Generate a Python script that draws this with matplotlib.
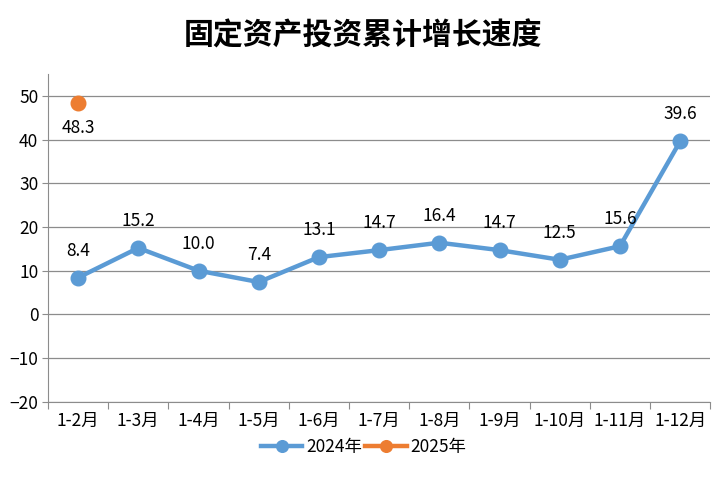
import matplotlib
matplotlib.use("Agg")
import matplotlib.pyplot as plt
import numpy as np

plt.rcParams['font.family'] = ['Noto Sans CJK SC', 'DejaVu Sans']

months = ["1-2月", "1-3月", "1-4月", "1-5月", "1-6月", "1-7月",
          "1-8月", "1-9月", "1-10月", "1-11月", "1-12月"]
y2024 = [8.4, 15.2, 10.0, 7.4, 13.1, 14.7, 16.4, 14.7, 12.5, 15.6, 39.6]
y2025 = [48.3]

blue = "#5B9BD5"
orange = "#ED7D31"

fig = plt.figure(figsize=(7.27, 4.9), dpi=100)
ax = fig.add_axes([0.066, 0.18, 0.911, 0.669])

x = np.arange(len(months))
ax.plot(x, y2024, color=blue, lw=3.2, marker="o", ms=10.5, label="2024年", zorder=3)
ax.plot(x[:len(y2025)], y2025, color=orange, lw=3.2, marker="o", ms=10.5, label="2025年", zorder=3)

for xi, v in zip(x, y2024):
    ax.annotate(f"{v:.1f}", (xi, v), xytext=(0, 13), textcoords="offset points",
                ha="center", va="bottom", fontsize=12.5)
for xi, v in zip(x, y2025):
    ax.annotate(f"{v:.1f}", (xi, v), xytext=(0, -11), textcoords="offset points",
                ha="center", va="top", fontsize=12.5)

ax.set_xlim(-0.5, len(months) - 0.5)
ax.set_ylim(-20, 55)
ax.set_yticks(np.arange(-20, 51, 10))
ax.yaxis.grid(True, color="#8c8c8c", lw=0.9)
ax.set_axisbelow(True)

ax.set_xticks(np.arange(-0.5, len(months), 1))
ax.set_xticklabels([])
ax.set_xticks(x, minor=True)
ax.set_xticklabels(months, minor=True)
ax.tick_params(axis="x", which="major", length=5, color="#8c8c8c")
ax.tick_params(axis="x", which="minor", length=0, pad=7, labelsize=12.5)
ax.tick_params(axis="y", length=4, color="#8c8c8c", labelsize=12.5, pad=3)

for s in ["top", "right"]:
    ax.spines[s].set_visible(False)
for s in ["left", "bottom"]:
    ax.spines[s].set_color("#8c8c8c")

fig.suptitle("固定资产投资累计增长速度", fontsize=21.5, fontweight="bold", y=0.958)

fig.legend(loc="center", bbox_to_anchor=(0.5, 0.088), ncol=2, frameon=False,
           fontsize=12.5, handlelength=2.4, handletextpad=0.2, columnspacing=0.2,
           markerscale=0.8)

fig.savefig("out.png", dpi=100)
